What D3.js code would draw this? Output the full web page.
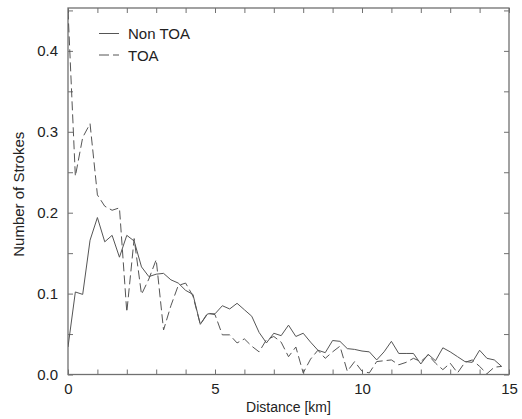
<!DOCTYPE html>
<html>
<head>
<meta charset="utf-8">
<script src="https://cdn.jsdelivr.net/npm/d3@7"></script>
<style>
  html, body { margin: 0; padding: 0; background: #ffffff; }
  svg { display: block; }
  text { font-family: "Liberation Sans", Arial, Helvetica, sans-serif; fill: #222; }
</style>
</head>
<body>
<svg id="chart" width="522" height="419"></svg>
<script>
// Distance bins (km), step 0.25
const distance = d3.range(0, 60).map(i => i * 0.25);

const nonToa = [
  0.034, 0.102, 0.099, 0.166, 0.194, 0.164, 0.172, 0.145, 0.172, 0.165,
  0.133, 0.121, 0.124, 0.125, 0.117, 0.113, 0.104, 0.099, 0.062, 0.075,
  0.075, 0.085, 0.081, 0.088, 0.080, 0.072, 0.052, 0.039, 0.051, 0.048,
  0.061, 0.047, 0.051, 0.040, 0.030, 0.027, 0.042, 0.041, 0.032, 0.031,
  0.029, 0.028, 0.018, 0.028, 0.041, 0.026, 0.026, 0.026, 0.013, 0.025,
  0.017, 0.033, 0.028, 0.022, 0.016, 0.015, 0.030, 0.020, 0.018, 0.010
];

const toa = [
  0.450, 0.245, 0.293, 0.310, 0.222, 0.208, 0.203, 0.206, 0.077, 0.168,
  0.099, 0.118, 0.142, 0.055, 0.085, 0.110, 0.113, 0.097, 0.062, 0.076,
  0.074, 0.049, 0.049, 0.039, 0.044, 0.035, 0.028, 0.043, 0.047, 0.040,
  0.022, 0.034, 0.002, 0.019, 0.030, 0.020, 0.028, 0.035, 0.004, 0.016,
  0.004, 0.002, 0.016, 0.017, 0.018, 0.012, 0.015, 0.020, 0.016, 0.024,
  0.014, 0.006, 0.014, 0.002, 0.015, 0.018, 0.010, 0.001, 0.009, 0.010
];

const xTickValues = d3.range(0, 16, 1);
const xTickLabels = [0, 5, 10, 15];
const yTickValues = d3.range(0, 0.451, 0.05);
const yTickLabels = [0, 0.1, 0.2, 0.3, 0.4];
const seriesNames = ["Non TOA", "TOA"];

(function () {
const svg = d3.select("#chart");
const mLeft = 68, mRight = 509, mTop = 8, mBottom = 374.5;
const x = d3.scaleLinear().domain([0, 15]).range([mLeft, mRight]);
const y = d3.scaleLinear().domain([0, 0.453]).range([mBottom, mTop]);

const frameColor = "#707070";
const lineColor = "#555";

svg.append("defs").append("clipPath").attr("id", "clip")
  .append("rect").attr("x", mLeft).attr("y", mTop)
  .attr("width", mRight - mLeft).attr("height", mBottom - mTop);

const isLabelX = v => xTickLabels.some(t => Math.abs(t - v) < 1e-9);
const isLabelY = v => yTickLabels.some(t => Math.abs(t - v) < 1e-9);

function styleAxis(g) {
  g.select(".domain").remove();
  g.selectAll(".tick line").attr("stroke", frameColor);
  g.selectAll(".tick text").attr("font-size", 15).attr("fill", "#222")
    .style("font-family", "'Liberation Sans', Arial, sans-serif");
}

// bottom axis
svg.append("g").attr("transform", `translate(0,${mBottom})`)
  .call(d3.axisBottom(x).tickValues(xTickValues).tickSize(-5).tickPadding(9)
    .tickFormat(v => isLabelX(v) ? d3.format("d")(v) : ""))
  .call(styleAxis);
// top axis
svg.append("g").attr("transform", `translate(0,${mTop})`)
  .call(d3.axisTop(x).tickValues(xTickValues).tickSize(-5).tickFormat(""))
  .call(styleAxis);
// left axis
svg.append("g").attr("transform", `translate(${mLeft},0)`)
  .call(d3.axisLeft(y).tickValues(yTickValues).tickSize(-5).tickPadding(10)
    .tickFormat(v => isLabelY(v) ? d3.format(".1f")(v) : ""))
  .call(styleAxis);
// right axis
svg.append("g").attr("transform", `translate(${mRight},0)`)
  .call(d3.axisRight(y).tickValues(yTickValues).tickSize(-5).tickFormat(""))
  .call(styleAxis);

// frame
svg.append("rect").attr("x", mLeft).attr("y", mTop)
  .attr("width", mRight - mLeft).attr("height", mBottom - mTop)
  .attr("fill", "none").attr("stroke", frameColor).attr("stroke-width", 1.3);

const line = d3.line().x((d, i) => x(distance[i])).y(d => y(d));

const plot = svg.append("g").attr("clip-path", "url(#clip)");
plot.append("path").datum(nonToa).attr("d", line)
  .attr("fill", "none").attr("stroke", lineColor).attr("stroke-width", 1);
plot.append("path").datum(toa).attr("d", line)
  .attr("fill", "none").attr("stroke", lineColor).attr("stroke-width", 1)
  .attr("stroke-dasharray", "9,4");

// legend
const legend = svg.append("g");
const legendRows = [
  { name: seriesNames[0], y: 33.5, dash: null },
  { name: seriesNames[1], y: 55, dash: "10,4" }
];
legendRows.forEach(r => {
  legend.append("line").attr("x1", 99).attr("x2", 119).attr("y1", r.y).attr("y2", r.y)
    .attr("stroke", lineColor).attr("stroke-width", 1)
    .attr("stroke-dasharray", r.dash);
  legend.append("text").attr("x", 128).attr("y", r.y + 5.5)
    .attr("font-size", 15).text(r.name);
});

// axis titles
svg.append("text").attr("x", (mLeft + mRight) / 2).attr("y", 412)
  .attr("text-anchor", "middle").attr("font-size", 14).text("Distance [km]");
svg.append("text")
  .attr("transform", `translate(24,${(mTop + mBottom) / 2 + 3}) rotate(-90)`)
  .attr("text-anchor", "middle").attr("font-size", 15).text("Number of Strokes");
})();
</script>
</body>
</html>
